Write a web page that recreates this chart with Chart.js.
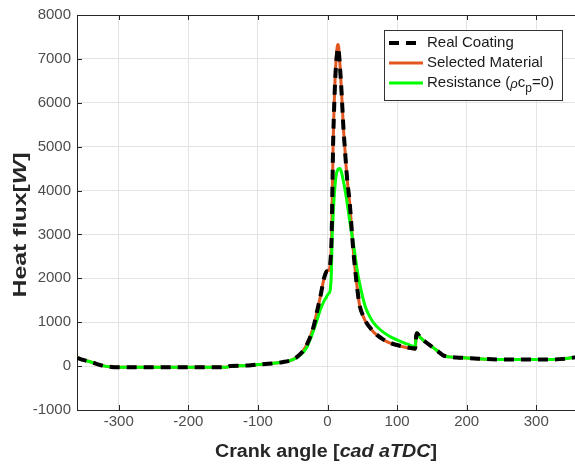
<!DOCTYPE html>
<html>
<head>
<meta charset="utf-8">
<script src="https://cdn.jsdelivr.net/npm/chart.js@4.4.0/dist/chart.umd.min.js"></script>
<style>
  html, body { margin: 0; padding: 0; background: #fff; overflow: hidden; }
  #wrap { width: 580px; height: 464px; position: relative; }
</style>
</head>
<body>
<div id="wrap"><canvas id="fluxChart"></canvas></div>
<script>
// crank angle [cad aTDC] and heat flux [W]
const coatingAngle = [-360, -350, -340, -330, -320, -310, -300, -250, -200, -150, -145, -140, -120, -100, -80, -65, -50, -40, -30, -20, -15, -10, -5, -2, 0, 2, 4, 6, 8, 10, 12, 14, 15, 16, 18, 20, 23, 25, 28, 32, 37, 42, 46, 52, 56, 62, 70, 80, 90, 100, 110, 120, 126, 127.5, 128.5, 133, 140, 152, 160, 167, 175, 185, 200, 250, 300, 320, 340, 360];
const coatingFlux = [190, 135, 95, 40, 0, -20, -25, -28, -28, -28, -25, 0, 10, 35, 60, 90, 150, 260, 480, 900, 1250, 1600, 2000, 2140, 2170, 2180, 2350, 3000, 5000, 6100, 6800, 7150, 7250, 7200, 6800, 6300, 5400, 4950, 4300, 3700, 2650, 1870, 1400, 1120, 990, 860, 725, 610, 530, 480, 440, 410, 398, 700, 750, 660, 560, 420, 320, 240, 210, 195, 185, 150, 150, 150, 165, 210];
const materialFlux = [190, 135, 95, 40, 0, -20, -25, -28, -28, -28, -25, 0, 10, 35, 60, 90, 150, 260, 480, 900, 1250, 1600, 2000, 2140, 2170, 2180, 2350, 3000, 5000, 6150, 6900, 7280, 7330, 7280, 6850, 6300, 5400, 4950, 4300, 3700, 2650, 1870, 1400, 1110, 980, 850, 715, 600, 525, 475, 435, 405, 392, 700, 750, 660, 560, 420, 320, 240, 210, 195, 185, 150, 150, 150, 165, 210];
const resistanceAngle = [-360, -350, -340, -330, -320, -310, -300, -250, -200, -150, -145, -140, -120, -100, -80, -65, -50, -40, -30, -23, -15, -11, -5, -2, 0, 2, 4, 5.7, 6.6, 8, 10, 12, 14, 17.7, 20, 23, 27, 32, 39, 42, 46, 54, 60, 66, 75, 85, 95, 104, 115, 126, 127.5, 128.5, 133, 140, 152, 160, 167, 175, 185, 200, 250, 300, 320, 340, 360];
const resistanceFlux = [190, 135, 95, 40, 0, -20, -25, -28, -28, -28, -25, 0, 10, 35, 60, 90, 150, 240, 420, 683, 1050, 1253, 1480, 1560, 1620, 1660, 1740, 2200, 2890, 3400, 3950, 4300, 4450, 4500, 4420, 4200, 3850, 3300, 2600, 2250, 1900, 1370, 1150, 990, 840, 720, 630, 570, 500, 445, 700, 760, 660, 560, 420, 320, 240, 210, 195, 185, 150, 150, 150, 165, 210];

const xTicks = [-300, -200, -100, 0, 100, 200, 300];
const yTicks = [-1000, 0, 1000, 2000, 3000, 4000, 5000, 6000, 7000, 8000];

const legendItems = ['Real Coating', 'Selected Material', 'Resistance'];

const FONT = '"Liberation Sans", Arial, sans-serif';

function toPoints(xs, ys) {
    return xs.map((x, i) => ({ x: x, y: ys[i] }));
}

// draw text made of several styled parts, squeezed or stretched to a width
function drawRich(ctx, parts, cx, cy, targetWidth) {
    let total = 0;
    parts.forEach(p => { ctx.font = p.font; p.w = ctx.measureText(p.text).width; total += p.w; });
    ctx.save();
    ctx.translate(cx, cy);
    if (targetWidth) ctx.scale(targetWidth / total, 1);
    let x = -total / 2;
    ctx.textBaseline = 'middle';
    ctx.textAlign = 'left';
    parts.forEach(p => {
        ctx.font = p.font;
        ctx.fillText(p.text, x, p.dy || 0);
        x += p.w;
    });
    ctx.restore();
}

const decorations = {
    id: 'decorations',
    afterDraw(chart) {
        const ctx = chart.ctx;
        const a = chart.chartArea;
        const xs = chart.scales.x, ys = chart.scales.y;
        ctx.save();
        ctx.strokeStyle = '#262626';
        ctx.lineWidth = 1;
        ctx.beginPath();
        // top border
        ctx.moveTo(a.left, a.top + 0.5);
        ctx.lineTo(a.right, a.top + 0.5);
        // inward tick marks
        xTicks.forEach(v => {
            const px = Math.round(xs.getPixelForValue(v)) + 0.5;
            ctx.moveTo(px, a.bottom); ctx.lineTo(px, a.bottom - 5);
            ctx.moveTo(px, a.top); ctx.lineTo(px, a.top + 5);
        });
        yTicks.forEach(v => {
            const py = Math.round(ys.getPixelForValue(v)) + 0.5;
            ctx.moveTo(a.left, py); ctx.lineTo(a.left + 5, py);
        });
        ctx.stroke();

        // legend
        const lx = 384.5, ly = 30.5, lw = 178, lh = 70;
        ctx.fillStyle = '#fff';
        ctx.fillRect(lx, ly, lw, lh);
        ctx.strokeStyle = '#333';
        ctx.strokeRect(lx, ly, lw, lh);
        const rows = [43, 63, 83];
        chart.data.datasets.forEach(ds => {
            const i = legendItems.indexOf(ds.label);
            ctx.beginPath();
            ctx.strokeStyle = ds.borderColor;
            ctx.lineWidth = ds.borderWidth;
            ctx.setLineDash(ds.borderDash || []);
            ctx.moveTo(389, rows[i]);
            ctx.lineTo(423, rows[i]);
            ctx.stroke();
        });
        ctx.setLineDash([]);
        ctx.fillStyle = '#1a1a1a';
        ctx.textBaseline = 'middle';
        ctx.textAlign = 'left';
        ctx.font = '15px ' + FONT;
        ctx.fillText('Real Coating', 427, rows[0]);
        ctx.fillText('Selected Material', 427, rows[1]);
        let x = 427;
        const seg = [
            { t: 'Resistance (', f: '15px ' + FONT, dy: 0 },
            { t: 'ρ', f: 'italic 13px ' + FONT, dy: 1 },
            { t: 'c', f: '15px ' + FONT, dy: 0 },
            { t: 'p', f: '12px ' + FONT, dy: 6 },
            { t: '=0)', f: '15px ' + FONT, dy: 0 }
        ];
        seg.forEach(s => {
            ctx.font = s.f;
            ctx.fillText(s.t, x, rows[2] + s.dy);
            x += ctx.measureText(s.t).width;
        });

        // axis titles
        ctx.fillStyle = '#262626';
        drawRich(ctx, [
            { text: 'Crank angle [', font: 'bold 18px ' + FONT },
            { text: 'cad aTDC', font: 'italic bold 18px ' + FONT },
            { text: ']', font: 'bold 18px ' + FONT }
        ], 326, 452, 222);
        ctx.save();
        ctx.translate(21, 225);
        ctx.rotate(-Math.PI / 2);
        drawRich(ctx, [
            { text: 'Heat flux[', font: 'bold 18px ' + FONT },
            { text: 'W', font: 'italic bold 18px ' + FONT },
            { text: ']', font: 'bold 18px ' + FONT }
        ], 0, 0, 145);
        ctx.restore();
        ctx.restore();
    }
};

document.addEventListener('DOMContentLoaded', function() {
    const ctx = document.getElementById('fluxChart').getContext('2d');

    new Chart(ctx, {
        type: 'line',
        data: {
            datasets: [
                {
                    label: 'Real Coating',
                    data: toPoints(coatingAngle, coatingFlux),
                    borderColor: '#000000',
                    borderWidth: 4,
                    borderDash: [10, 7]
                },
                {
                    label: 'Resistance',
                    data: toPoints(resistanceAngle, resistanceFlux),
                    borderColor: '#00ff00',
                    borderWidth: 3
                },
                {
                    label: 'Selected Material',
                    data: toPoints(coatingAngle, materialFlux),
                    borderColor: '#e2561f',
                    borderWidth: 3
                }
            ]
        },
        options: {
            responsive: true,
            maintainAspectRatio: false,
            animation: false,
            layout: { padding: { top: 15, right: 2, left: 0, bottom: 0 } },
            elements: {
                point: { radius: 0 },
                line: { cubicInterpolationMode: 'monotone', fill: false }
            },
            scales: {
                x: {
                    type: 'linear',
                    min: -360,
                    max: 360,
                    afterBuildTicks: s => { s.ticks = xTicks.map(v => ({ value: v })); },
                    afterFit: s => { s.height = 54; },
                    grid: { color: '#e3e3e3', drawTicks: false },
                    border: { display: true, color: '#262626', width: 1 },
                    ticks: { padding: 3, color: '#4d4d4d', font: { family: FONT, size: 15 }, callback: v => String(v) }
                },
                y: {
                    min: -1000,
                    max: 8000,
                    afterBuildTicks: s => { s.ticks = yTicks.map(v => ({ value: v })); },
                    afterFit: s => { s.width = 77; },
                    grid: { color: '#e3e3e3', drawTicks: false },
                    border: { display: true, color: '#262626', width: 1 },
                    ticks: { padding: 6, color: '#4d4d4d', font: { family: FONT, size: 15 }, callback: v => String(v) }
                }
            },
            plugins: {
                legend: { display: false },
                tooltip: { enabled: false }
            }
        },
        plugins: [decorations]
    });
});
</script>
</body>
</html>
